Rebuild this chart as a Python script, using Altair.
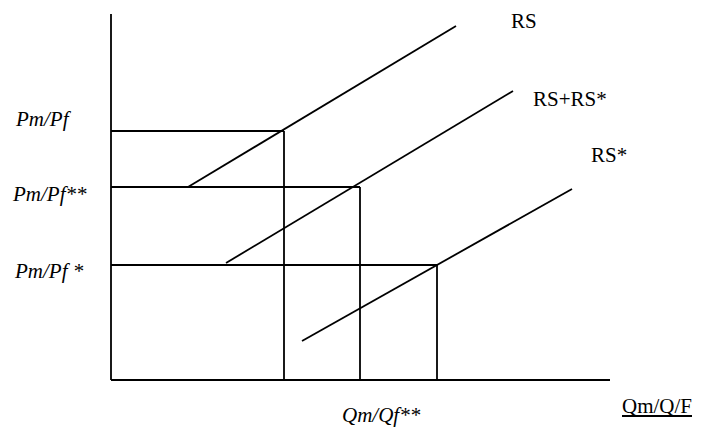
import altair as alt
import pandas as pd

# Segments of the diagram (arbitrary diagram units; origin at the axes corner)
seg_names = ["y-axis", "x-axis",
             "Pm/Pf level", "Pm/Pf** level", "Pm/Pf* level",
             "Q at Pm/Pf", "Q at Pm/Pf**", "Q at Pm/Pf*",
             "RS", "RS+RS*", "RS*", "underline"]
seg_x1 = [0.0, 0.0, 0.0, 0.0, 0.0, 17.3, 24.9, 32.6, 7.7, 11.5, 19.1, 51.1]
seg_y1 = [0.0, 0.0, 24.9, 19.3, 11.5, 24.9, 19.3, 11.5, 19.3, 11.7, 3.9, -3.6]
seg_x2 = [0.0, 49.9, 17.3, 24.9, 32.6, 17.3, 24.9, 32.6, 34.5, 40.2, 46.1, 58.1]
seg_y2 = [36.6, 0.0, 24.9, 19.3, 11.5, 0.0, 0.0, 0.0, 35.4, 28.9, 19.1, -3.6]

# Text labels
lab_text = ["Pm/Pf", "Pm/Pf**", "Pm/Pf *", "RS", "RS+RS*", "RS*", "Qm/Q/F", "Qm/Qf**"]
lab_x = [-9.5, -9.8, -9.6, 40.0, 42.2, 48.0, 51.1, 23.1]
lab_y = [25.4, 17.9, 10.2, 35.2, 27.4, 21.8, -3.3, -4.2]
lab_style = ["italic", "italic", "italic", "normal", "normal", "normal", "normal", "italic"]

segs = pd.DataFrame({"name": seg_names, "x1": seg_x1, "y1": seg_y1,
                     "x2": seg_x2, "y2": seg_y2})
labs = pd.DataFrame({"text": lab_text, "x": lab_x, "y": lab_y, "style": lab_style})

xs = alt.Scale(domain=[-10.3, 58.3], nice=False, zero=False)
ys = alt.Scale(domain=[-4.7, 37.2], nice=False, zero=False)

lines = alt.Chart(segs).mark_rule(color="black", strokeWidth=1.8).encode(
    x=alt.X("x1:Q", scale=xs, axis=None),
    y=alt.Y("y1:Q", scale=ys, axis=None),
    x2="x2:Q",
    y2="y2:Q",
)

def text_layer(style):
    return alt.Chart(labs).transform_filter(
        alt.datum.style == style
    ).mark_text(
        font="Liberation Serif", fontSize=21, fontStyle=style,
        align="left", baseline="alphabetic", color="black",
    ).encode(
        x=alt.X("x:Q", scale=xs, axis=None),
        y=alt.Y("y:Q", scale=ys, axis=None),
        text="text:N",
    )

chart = alt.layer(lines, text_layer("italic"), text_layer("normal")).properties(
    width=686, height=419,
    autosize=alt.AutoSizeParams(type="none"),
    padding=0,
    background="white",
).configure_view(stroke=None)

chart.save("out.html", embed_options={"renderer": "svg", "actions": False})
